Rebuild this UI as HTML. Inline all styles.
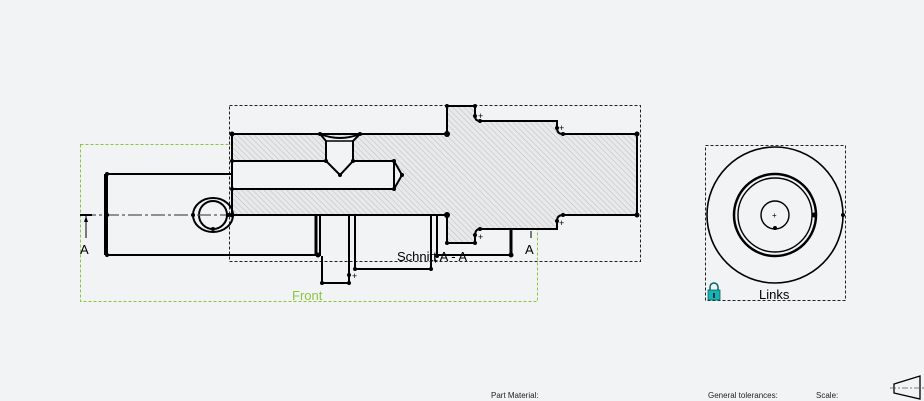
<!DOCTYPE html>
<html><head><meta charset="utf-8"><style>
html,body{margin:0;padding:0;background:#f1f3f5;}
svg{display:block;font-family:"Liberation Sans",sans-serif;}
</style></head><body>
<svg width="924" height="401" viewBox="0 0 924 401" xmlns="http://www.w3.org/2000/svg">
<defs>
<pattern id="h" width="4" height="4" patternUnits="userSpaceOnUse" patternTransform="rotate(-45)">
<rect width="4" height="4" fill="#e8e9eb"/><line x1="0" y1="0" x2="0" y2="4" stroke="#aaa" stroke-width="0.7"/>
</pattern>
</defs>
<rect width="924" height="401" fill="#f1f3f5"/>
<rect x="80.5" y="144.5" width="457" height="157" fill="none" stroke="#8cc63f" stroke-dasharray="3,2"/>
<rect x="229.5" y="105.5" width="411" height="156" fill="none" stroke="#222" stroke-dasharray="3,2"/>
<rect x="705.5" y="145.5" width="140" height="155" fill="none" stroke="#222" stroke-dasharray="3,2"/>
<path d="M232,134 L447,134 L447,106 L475,106 L475,116 Q475,121 480,121 L557,121 L557,128 Q557,134 563,134 L634,134 Q637,134 637,138 L637,211 Q637,215 634,215 L563,215 Q557,215 557,221 L557,229 L480,229 Q475,229 475,236 L475,243 L447,243 L447,215 L232,215 Z" fill="url(#h)" stroke="#000" stroke-width="2"/>
<path d="M232,161 L394,161 L402,175 L394,189 L232,189 Z" fill="#f1f3f5" stroke="#000" stroke-width="2"/>
<line x1="394" y1="161" x2="394" y2="189" stroke="#000" stroke-width="2"/>
<path d="M320,134 Q340,142 360,134 L353,141 L353,161 L340,175 L326,161 L326,141 Z" fill="#f1f3f5" stroke="#000" stroke-width="2"/>
<line x1="326" y1="141" x2="353" y2="141" stroke="#000" stroke-width="1.5"/>
<g stroke="#000" stroke-width="2" fill="none">
<path d="M232,174 L107,174 L107,255 L318,255"/>
<line x1="105" y1="174" x2="105" y2="255"/>
<ellipse cx="213" cy="215" rx="20" ry="17"/>
<circle cx="213" cy="215" r="14"/>
<line x1="316" y1="215" x2="316" y2="256" stroke-width="3"/>
<line x1="320" y1="215" x2="320" y2="256"/>
<path d="M322,256 L322,283 L349,283 L349,215"/>
<line x1="355" y1="215" x2="355" y2="269"/>
<path d="M355,269 L431,269 L431,215"/>
<line x1="437" y1="215" x2="437" y2="256"/>
<line x1="437" y1="255" x2="511" y2="255"/>
<line x1="511" y1="229" x2="511" y2="255" stroke-width="3"/>
</g>
<line x1="82" y1="215" x2="232" y2="215" stroke="#555" stroke-width="1.2" stroke-dasharray="14,3,3,3"/>
<line x1="80" y1="215" x2="92" y2="215" stroke="#000" stroke-width="2"/>
<line x1="86" y1="216" x2="86" y2="238" stroke="#000"/>
<path d="M86,216 l-2,6 h4z" fill="#000"/>
<line x1="531" y1="231" x2="531" y2="238" stroke="#000"/>
<text x="80" y="254" font-size="13">A</text>
<text x="525" y="254" font-size="13">A</text>
<text x="397" y="261" font-size="13">Schnitt A - A</text>
<text x="292" y="300" font-size="13" fill="#8cc63f">Front</text>
<g fill="#000">
<circle cx="107" cy="174" r="2"/><circle cx="107" cy="255" r="2"/><circle cx="107" cy="215" r="2"/>
<circle cx="232" cy="134" r="2.5"/><circle cx="232" cy="161" r="2"/><circle cx="232" cy="189" r="2"/><circle cx="232" cy="215" r="2.5"/>
<circle cx="320" cy="134" r="2"/><circle cx="360" cy="134" r="2"/><circle cx="326" cy="161" r="2"/><circle cx="353" cy="161" r="2"/><circle cx="340" cy="175" r="2"/>
<circle cx="394" cy="161" r="2"/><circle cx="394" cy="189" r="2"/><circle cx="402" cy="175" r="2"/>
<circle cx="193" cy="215" r="2"/><circle cx="213" cy="229" r="2"/><circle cx="228" cy="215" r="2"/>
<circle cx="447" cy="134" r="3"/><circle cx="447" cy="215" r="3"/><circle cx="447" cy="106" r="2"/><circle cx="475" cy="106" r="2"/>
<circle cx="475" cy="116" r="2"/><circle cx="480" cy="121" r="2"/><circle cx="557" cy="128" r="2"/><circle cx="563" cy="134" r="2"/>
<circle cx="637" cy="134" r="2.5"/><circle cx="637" cy="215" r="2.5"/><circle cx="563" cy="215" r="2"/><circle cx="557" cy="221" r="2"/>
<circle cx="480" cy="229" r="2"/><circle cx="475" cy="235" r="2"/><circle cx="447" cy="243" r="2"/><circle cx="475" cy="243" r="2"/>
<circle cx="318" cy="255" r="2.5"/><circle cx="322" cy="283" r="2"/><circle cx="349" cy="283" r="2"/><circle cx="349" cy="275" r="2"/>
<circle cx="355" cy="269" r="2"/><circle cx="431" cy="269" r="2"/><circle cx="437" cy="256" r="2"/><circle cx="511" cy="255" r="2.5"/>
<circle cx="775" cy="228" r="2"/><circle cx="814" cy="215" r="2.5"/><circle cx="843" cy="215" r="2"/>
</g>
<g font-size="9"><text x="478" y="119">+</text><text x="559" y="131">+</text><text x="559" y="226">+</text><text x="478" y="240">+</text><text x="352" y="279">+</text><text x="433" y="264">+</text></g>
<g fill="none" stroke="#000">
<circle cx="775" cy="215" r="68" stroke-width="1.6"/>
<circle cx="775" cy="215" r="41" stroke-width="2.5"/>
<circle cx="775" cy="215" r="37" stroke-width="1.4"/>
<circle cx="775" cy="215" r="14" stroke-width="1.4"/>
</g>
<text x="772" y="218" font-size="8">+</text>
<rect x="708" y="290" width="12" height="10" fill="#19b2b2" stroke="#066" stroke-width="0.8"/>
<path d="M710,290 v-3 a4,4 0 0 1 8,0 v3" fill="none" stroke="#066" stroke-width="1.5"/>
<rect x="713" y="293" width="2" height="5" fill="#033"/>
<text x="759" y="299" font-size="13">Links</text>
<g font-size="8" fill="#222"><text x="491" y="398">Part Material:</text><text x="708" y="398">General tolerances:</text><text x="816" y="398">Scale:</text></g>
<path d="M894,384 L920,376 L920,399 L894,393 Z" fill="none" stroke="#000" stroke-width="1.3"/>
<line x1="890" y1="388" x2="924" y2="388" stroke="#555" stroke-width="0.8" stroke-dasharray="6,2,2,2"/>
</svg>
</body></html>
